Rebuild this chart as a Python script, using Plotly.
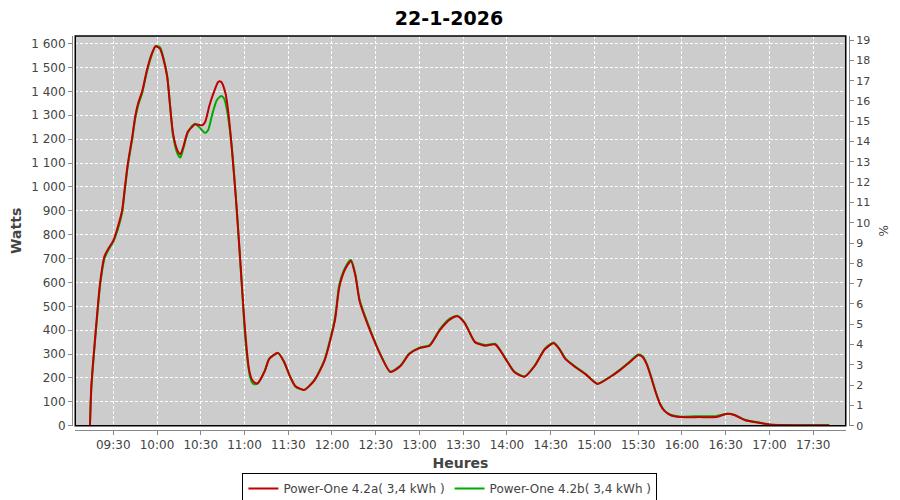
import plotly.graph_objects as go

DAY = "2026-01-22 "

# Power-One 4.2a (red) : time, watts
times_a = ["09:14", "09:15", "09:18", "09:21", "09:24", "09:27", "09:30",
           "09:33", "09:36", "09:38", "09:40", "09:43", "09:45", "09:47", "09:50", "09:53", "09:56",
           "09:59", "10:02", "10:04", "10:07", "10:09", "10:11", "10:14", "10:16", "10:18", "10:21",
           "10:24", "10:26", "10:31", "10:33", "10:36", "10:39", "10:42", "10:44", "10:47", "10:49",
           "10:51", "10:54", "10:57", "11:00", "11:03", "11:05", "11:07",
           "11:09", "11:14", "11:17", "11:23", "11:27", "11:31", "11:35", "11:41", "11:48", "11:55",
           "12:02", "12:05", "12:09", "12:13", "12:16", "12:19", "12:26", "12:33", "12:40", "12:47",
           "12:53", "13:00", "13:07", "13:14", "13:21", "13:26", "13:31", "13:38", "13:45", "13:52",
           "13:59", "14:05", "14:12", "14:19", "14:26", "14:32", "14:36", "14:40", "14:47", "14:54",
           "15:02", "15:11", "15:18", "15:24", "15:30", "15:33", "15:36", "15:39", "15:42", "15:45",
           "15:48", "15:52", "15:59", "16:12", "16:23", "16:31", "16:36", "16:43", "16:53", "17:00",
           "17:07", "17:41"]
watts_a = [0, 170, 400, 600, 710, 745, 775,
           830, 900, 1000, 1098, 1209, 1293, 1349, 1405, 1488, 1551,
           1589, 1579, 1544, 1460, 1335, 1223, 1153, 1137, 1167, 1230,
           1251, 1262, 1258, 1272, 1342, 1397, 1440, 1440, 1391, 1307,
           1182, 960, 700, 430, 240, 195, 180,
           178, 230, 280, 305, 270, 210, 165, 150, 190, 275,
           440, 580, 655, 690, 630, 520, 400, 300, 225, 250,
           300, 325, 335, 400, 445, 458, 430, 350, 335, 340,
           280, 225, 205, 250, 320, 345, 320, 280, 245, 215,
           175, 205, 235, 265, 295, 288, 255, 200, 140, 90,
           62, 45, 36, 36, 36, 50, 45, 24, 12, 5,
           3, 2]

# Power-One 4.2b (green) : time, watts
times_b = ["09:14", "09:15", "09:18", "09:21", "09:24", "09:27", "09:30",
           "09:33", "09:36", "09:38", "09:40", "09:43", "09:45", "09:47", "09:50", "09:53", "09:56",
           "09:59", "10:02", "10:04", "10:07", "10:09", "10:11", "10:14", "10:16", "10:18", "10:21",
           "10:24", "10:26", "10:30", "10:33", "10:35", "10:38", "10:41", "10:44", "10:46", "10:48",
           "10:50", "10:52", "10:55", "10:58", "11:01", "11:04", "11:06",
           "11:09", "11:14", "11:17", "11:23", "11:27", "11:31", "11:35", "11:41", "11:48", "11:55",
           "12:02", "12:05", "12:09", "12:13", "12:16", "12:19", "12:26", "12:33", "12:40", "12:47",
           "12:53", "13:00", "13:07", "13:14", "13:21", "13:26", "13:31", "13:38", "13:45", "13:52",
           "13:59", "14:05", "14:12", "14:19", "14:26", "14:32", "14:36", "14:40", "14:47", "14:54",
           "15:02", "15:11", "15:18", "15:24", "15:30", "15:33", "15:36", "15:39", "15:42", "15:45",
           "15:48", "15:52", "15:59", "16:12", "16:23", "16:31", "16:36", "16:43", "16:53", "17:00",
           "17:07", "17:41"]
watts_b = [0, 160, 390, 590, 700, 740, 770,
           820, 890, 990, 1090, 1200, 1285, 1340, 1398, 1480, 1545,
           1590, 1585, 1550, 1465, 1340, 1215, 1140, 1123, 1160, 1225,
           1255, 1265, 1244, 1226, 1237, 1307, 1363, 1381, 1370, 1321,
           1237, 1120, 880, 600, 330, 200, 175,
           176, 232, 282, 303, 268, 208, 163, 150, 192, 278,
           450, 590, 662, 695, 635, 525, 405, 302, 226, 252,
           302, 327, 338, 405, 450, 460, 432, 352, 338, 343,
           282, 227, 206, 252, 323, 348, 322, 282, 247, 216,
           176, 206, 237, 268, 298, 291, 258, 203, 142, 92,
           63, 46, 38, 40, 40, 50, 45, 25, 13, 5,
           3, 2]

name_a = "Power-One 4.2a( 3,4 kWh )"
name_b = "Power-One 4.2b( 3,4 kWh )"

x_ticks_start = DAY + "09:30"
x_range = [DAY + "09:03:56", DAY + "17:52:20"]
y_range = [0, 1632]
y2_range = [0, 19.2]

fig = go.Figure()
fig.add_trace(go.Scatter(
    x=[DAY + t for t in times_b], y=watts_b, name=name_b, mode="lines",
    line=dict(color="#00AA00", width=2, shape="spline", smoothing=0.6),
    legendrank=2))
fig.add_trace(go.Scatter(
    x=[DAY + t for t in times_a], y=watts_a, name=name_a, mode="lines",
    line=dict(color="#C00000", width=2, shape="spline", smoothing=0.6),
    legendrank=1))
fig.add_trace(go.Scatter(x=[], y=[], yaxis="y2", showlegend=False, hoverinfo="skip"))

font = "DejaVu Sans"
grid = dict(showgrid=True, gridcolor="white", griddash="3px,2px", gridwidth=1)

fig.update_layout(
    width=900, height=500,
    paper_bgcolor="white", plot_bgcolor="#CCCCCC",
    separators=", ",
    font=dict(family=font, size=12, color="#444444"),
    margin=dict(l=64, r=59, t=28, b=78, autoexpand=False),
    title=dict(text="<b>22-1-2026</b>", x=0.49, xref="container", xanchor="center",
               y=0.993, yref="container", yanchor="top",
               font=dict(family=font, size=19, color="black")),
    xaxis=dict(type="date", range=x_range, domain=[0.0042, 0.9958],
               anchor="free", position=0, automargin=False,
               tick0=x_ticks_start, dtick=30 * 60 * 1000, tickformat="%H:%M",
               ticks="outside", ticklen=4, tickcolor="#888888",
               showline=True, linecolor="#888888", linewidth=1,
               tickfont=dict(size=12, color="#444444"),
               title=dict(text="<b>Heures</b>", font=dict(size=14, color="#444444"), standoff=6),
               zeroline=False, **grid),
    yaxis=dict(range=y_range, domain=[0.0109, 1], anchor="free", position=0, automargin=False,
               dtick=100, tickformat=",d",
               ticks="outside", ticklen=4, tickcolor="#888888",
               showline=True, linecolor="#888888", linewidth=1,
               tickfont=dict(size=12, color="#444444"),
               title=dict(text="<b>Watts</b>", font=dict(size=14, color="#444444"), standoff=8),
               zeroline=False, **grid),
    yaxis2=dict(range=y2_range, overlaying="y", side="right", anchor="free", position=1,
                automargin=False,
                dtick=1, ticks="outside", ticklen=4, tickcolor="#888888",
                showline=True, linecolor="#888888", linewidth=1, showgrid=False,
                zeroline=False,
                tickfont=dict(size=11, color="#444444"),
                title=dict(text="%", font=dict(size=12, color="#444444"), standoff=10)),
    legend=dict(orientation="h", xref="container", x=0.491, xanchor="center",
                yref="container", y=0.07, yanchor="top",
                bordercolor="black", borderwidth=1, bgcolor="white",
                font=dict(size=12, color="#444444"), itemwidth=30,
                traceorder="normal"),
    showlegend=True,
)

# black frame around the plot area
fig.add_shape(type="rect", xref="x domain", yref="y domain", x0=0, x1=1, y0=0, y1=1,
              line=dict(color="black", width=1.5), layer="above")

fig.write_html("out.html")
